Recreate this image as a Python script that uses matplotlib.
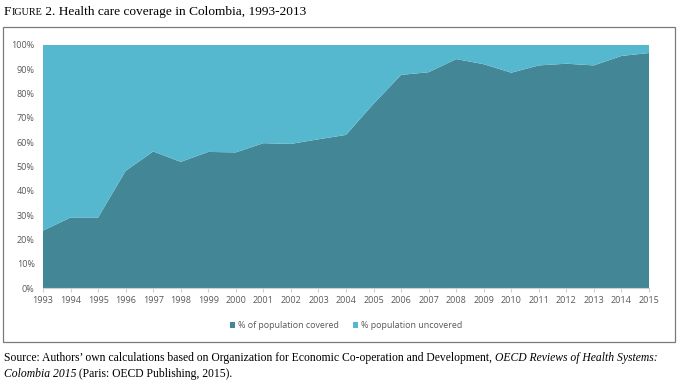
import numpy as np
import matplotlib.pyplot as plt
from matplotlib.patches import Rectangle

years = list(range(1993, 2016))
covered = [23.6, 29.0, 29.0, 48.2, 56.2, 51.9, 56.0, 55.8, 59.6, 59.3, 61.2, 63.0,
           75.8, 87.7, 88.8, 94.2, 92.1, 88.6, 91.6, 92.3, 91.6, 95.5, 96.7]
uncovered = [100 - c for c in covered]
labels = ['% of population covered', '% population uncovered']
colors = ['#438797', '#55B8CF']

fig = plt.figure(figsize=(6.79, 3.81), dpi=100)
W, H = 679, 381
serif = 'Liberation Serif'
renderer = fig.canvas.get_renderer()


def text_after(prev, s, **kw):
    # place a text right after the previous one on the same baseline
    bb = prev.get_window_extent(renderer)
    x = bb.x1 / (W)
    y = prev.get_position()[1]
    return fig.text(x, y, s, va='baseline', **kw)


# outer frame
fig.patches.append(Rectangle((3 / W, 1 - 342 / H), 672 / W, 315 / H, transform=fig.transFigure,
                             fill=False, edgecolor='#7a7a7a', linewidth=0.9))

# title with fake small caps
t1 = fig.text(4 / W, 1 - 15 / H, 'F', family=serif, fontsize=9.6, va='baseline')
t2 = text_after(t1, 'IGURE', family=serif, fontsize=7.3)
text_after(t2, ' 2. Health care coverage in Colombia, 1993-2013', family=serif, fontsize=9.6)

ax = fig.add_axes([43 / W, 1 - 288 / H, 606 / W, 243 / H])
ax.stackplot(years, covered, uncovered, colors=colors, labels=labels, linewidth=0)
ax.set_xlim(1993, 2015)
ax.set_ylim(0, 100)
ax.set_xticks(years)
ax.set_xticklabels([str(y) for y in years])
ax.set_yticks(range(0, 101, 10))
ax.set_yticklabels([f'{v}%' for v in range(0, 101, 10)])
for s in ['top', 'right', 'left']:
    ax.spines[s].set_visible(False)
ax.spines['bottom'].set_color('#d0d0d0')
ax.tick_params(axis='x', length=3, color='#d0d0d0', labelsize=6.5, labelcolor='#595959', pad=3)
ax.tick_params(axis='y', length=0, labelsize=6.5, labelcolor='#595959', pad=6)
for t in ax.get_xticklabels() + ax.get_yticklabels():
    t.set_family('Open Sans')

leg = ax.legend(loc='center', bbox_to_anchor=(0.5, -0.155), ncol=2, frameon=False,
                prop={'family': 'Open Sans', 'size': 6.4}, handlelength=0.6, handleheight=0.6,
                handletextpad=0.3, columnspacing=1.6)
for t in leg.get_texts():
    t.set_color('#595959')

# source note, chained pieces
fs = 8.4
s1 = fig.text(4 / W, 1 - 361 / H, 'Source: Authors\u2019 own calculations based on Organization for Economic Co-operation and Development, ',
              family=serif, fontsize=fs, va='baseline')
text_after(s1, 'OECD Reviews of Health Systems:', family=serif, fontsize=fs, style='italic')
s3 = fig.text(4 / W, 1 - 377 / H, 'Colombia 2015', family=serif, fontsize=fs, va='baseline', style='italic')
text_after(s3, ' (Paris: OECD Publishing, 2015).', family=serif, fontsize=fs)

fig.savefig('out.png', dpi=100)
